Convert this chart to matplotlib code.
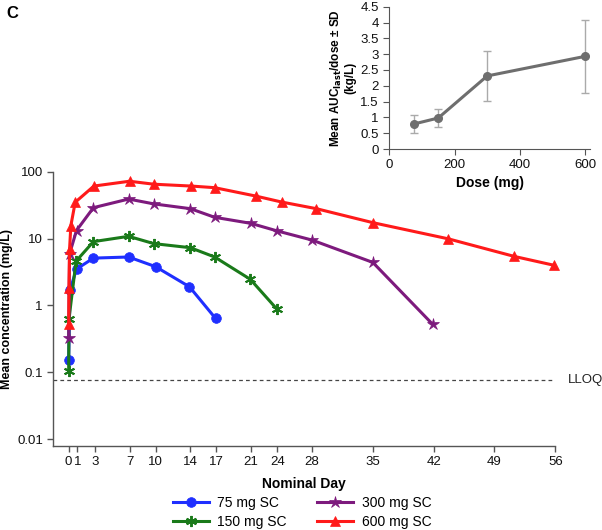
import matplotlib
matplotlib.use("Agg")
import matplotlib.pyplot as plt

plt.rcParams['font.family'] = ['Liberation Sans', 'DejaVu Sans']

# ---------------- data ----------------
days_75 = [0.0, 0.15, 0.9, 2.85, 6.9, 10.0, 13.9, 16.9]
conc_75 = [0.155, 1.7, 3.5, 5.1, 5.3, 3.8, 1.9, 0.64]

days_150 = [0.0, 0.03, 0.85, 2.85, 6.9, 9.8, 14.0, 16.8, 20.9, 24.0]
conc_150 = [0.105, 0.62, 4.6, 9.0, 10.8, 8.4, 7.3, 5.3, 2.46, 0.87]

days_300 = [0.0, 0.1, 0.9, 2.85, 6.9, 9.8, 14.0, 16.8, 20.95, 24.0, 28.0, 35.0, 41.9]
conc_300 = [0.33, 5.9, 13.2, 29.0, 39.0, 33.0, 28.0, 20.8, 16.9, 13.0, 9.5, 4.4, 0.52]

days_600 = [0.0, 0.03, 0.1, 0.25, 0.75, 2.9, 7.0, 9.8, 14.1, 16.8, 21.5, 24.5, 28.5,
            35.0, 43.7, 51.3, 55.8]
conc_600 = [0.52, 1.85, 6.9, 15.6, 34.9, 61.0, 72.0, 65.0, 61.0, 57.7, 43.3, 35.2, 28.0,
            17.3, 9.9, 5.4, 4.0]

lloq = 0.078
x_ticks = [0, 1, 3, 7, 10, 14, 17, 21, 24, 28, 35, 42, 49, 56]
y_ticks = [0.01, 0.1, 1, 10, 100]
y_ticklabels = ['0.01', '0.1', '1', '10', '100']

dose = [75, 150, 300, 600]
auc_mean = [0.79, 0.98, 2.31, 2.93]
auc_sd = [0.27, 0.27, 0.78, 1.16]
inset_yticks = [0, 0.5, 1, 1.5, 2, 2.5, 3, 3.5, 4, 4.5]
inset_yticklabels = ['0', '0.5', '1', '1.5', '2', '2.5', '3', '3.5', '4', '4.5']
inset_xticks = [0, 200, 400, 600]

series = [
    ('75 mg SC', days_75, conc_75, '#1f2fff', 'o', 7, 0.5),
    ('150 mg SC', days_150, conc_150, '#1a7a1a', (6, 2, 0), 8, 1.4),
    ('300 mg SC', days_300, conc_300, '#7d1a7d', '*', 9, 0.5),
    ('600 mg SC', days_600, conc_600, '#ff1a1a', '^', 7, 0.5),
]

# ---------------- figure ----------------
fig = plt.figure(figsize=(6.02, 5.3), dpi=100)
axc = '#555555'

ax = fig.add_axes([53.3 / 602, 1 - 446 / 530, (555.3 - 53.3) / 602, (446 - 171.7) / 530])
handles = []
for label, d, c, col, mk, ms, mew in series:
    ln, = ax.plot(d, c, color=col, marker=mk, markersize=ms, markeredgewidth=mew,
                  markeredgecolor=col, markerfacecolor=col, linewidth=2.2, label=label,
                  clip_on=False)
    handles.append(ln)

ax.axhline(lloq, color='#444444', linestyle=(0, (3, 2.5)), linewidth=0.9)
ax.text(1.025, lloq, 'LLOQ', transform=ax.get_yaxis_transform(), ha='left', va='center',
        fontsize=9.5, color='#222222')

ax.set_yscale('log')
ax.set_ylim(0.0079, 100)
ax.set_xlim(-1.77, 56)
ax.set_yticks(y_ticks)
ax.set_yticklabels(y_ticklabels)
ax.yaxis.set_minor_locator(matplotlib.ticker.NullLocator())
ax.set_xticks(x_ticks)
ax.set_xticklabels([str(t) for t in x_ticks])
for s in ['top', 'right']:
    ax.spines[s].set_visible(False)
for s in ['left', 'bottom']:
    ax.spines[s].set_color(axc)
    ax.spines[s].set_linewidth(1.0)
ax.tick_params(axis='both', direction='out', length=4, width=1.0, color=axc,
               labelsize=9.5, labelcolor='#111111')
ax.set_xlabel('Nominal Day', fontsize=10, fontweight='bold', labelpad=6)
ax.set_ylabel('Mean concentration (mg/L)', fontsize=9, fontweight='bold', labelpad=3)

fig.legend(handles=handles, loc='center', bbox_to_anchor=(302 / 602, 1 - 512.5 / 530),
           ncol=2, frameon=False, fontsize=10, handlelength=2.6, columnspacing=2.2,
           labelspacing=0.35, handletextpad=0.6)

# ---------------- inset ----------------
axi = fig.add_axes([389.3 / 602, 1 - 149 / 530, (590 - 389.3) / 602, (149 - 6.7) / 530])
axi.errorbar(dose, auc_mean, yerr=auc_sd, fmt='none', ecolor='#aaaaaa', elinewidth=1.0,
             capsize=3, capthick=1.0)
axi.plot(dose, auc_mean, color='#6e6e6e', marker='o', markersize=5.5, linewidth=2.2)
axi.set_xlim(0, 615)
axi.set_ylim(0, 4.5)
axi.set_yticks(inset_yticks)
axi.set_yticklabels(inset_yticklabels)
axi.set_xticks(inset_xticks)
for s in ['top', 'right']:
    axi.spines[s].set_visible(False)
for s in ['left', 'bottom']:
    axi.spines[s].set_color(axc)
axi.tick_params(axis='both', direction='out', length=4, color=axc, labelsize=9.5,
                labelcolor='#111111')
axi.set_xlabel('Dose (mg)', fontsize=10, fontweight='bold', labelpad=3)
axi.set_ylabel('Mean AUC$_{\\mathbf{last}}$/dose ± SD\n(kg/L)', fontsize=8.5,
               fontweight='bold', labelpad=3, linespacing=1.0)

fig.text(12 / 602, 1 - 13 / 530, 'C', fontsize=12, fontweight='bold', ha='center', va='center')

fig.savefig('out.png', dpi=100)
